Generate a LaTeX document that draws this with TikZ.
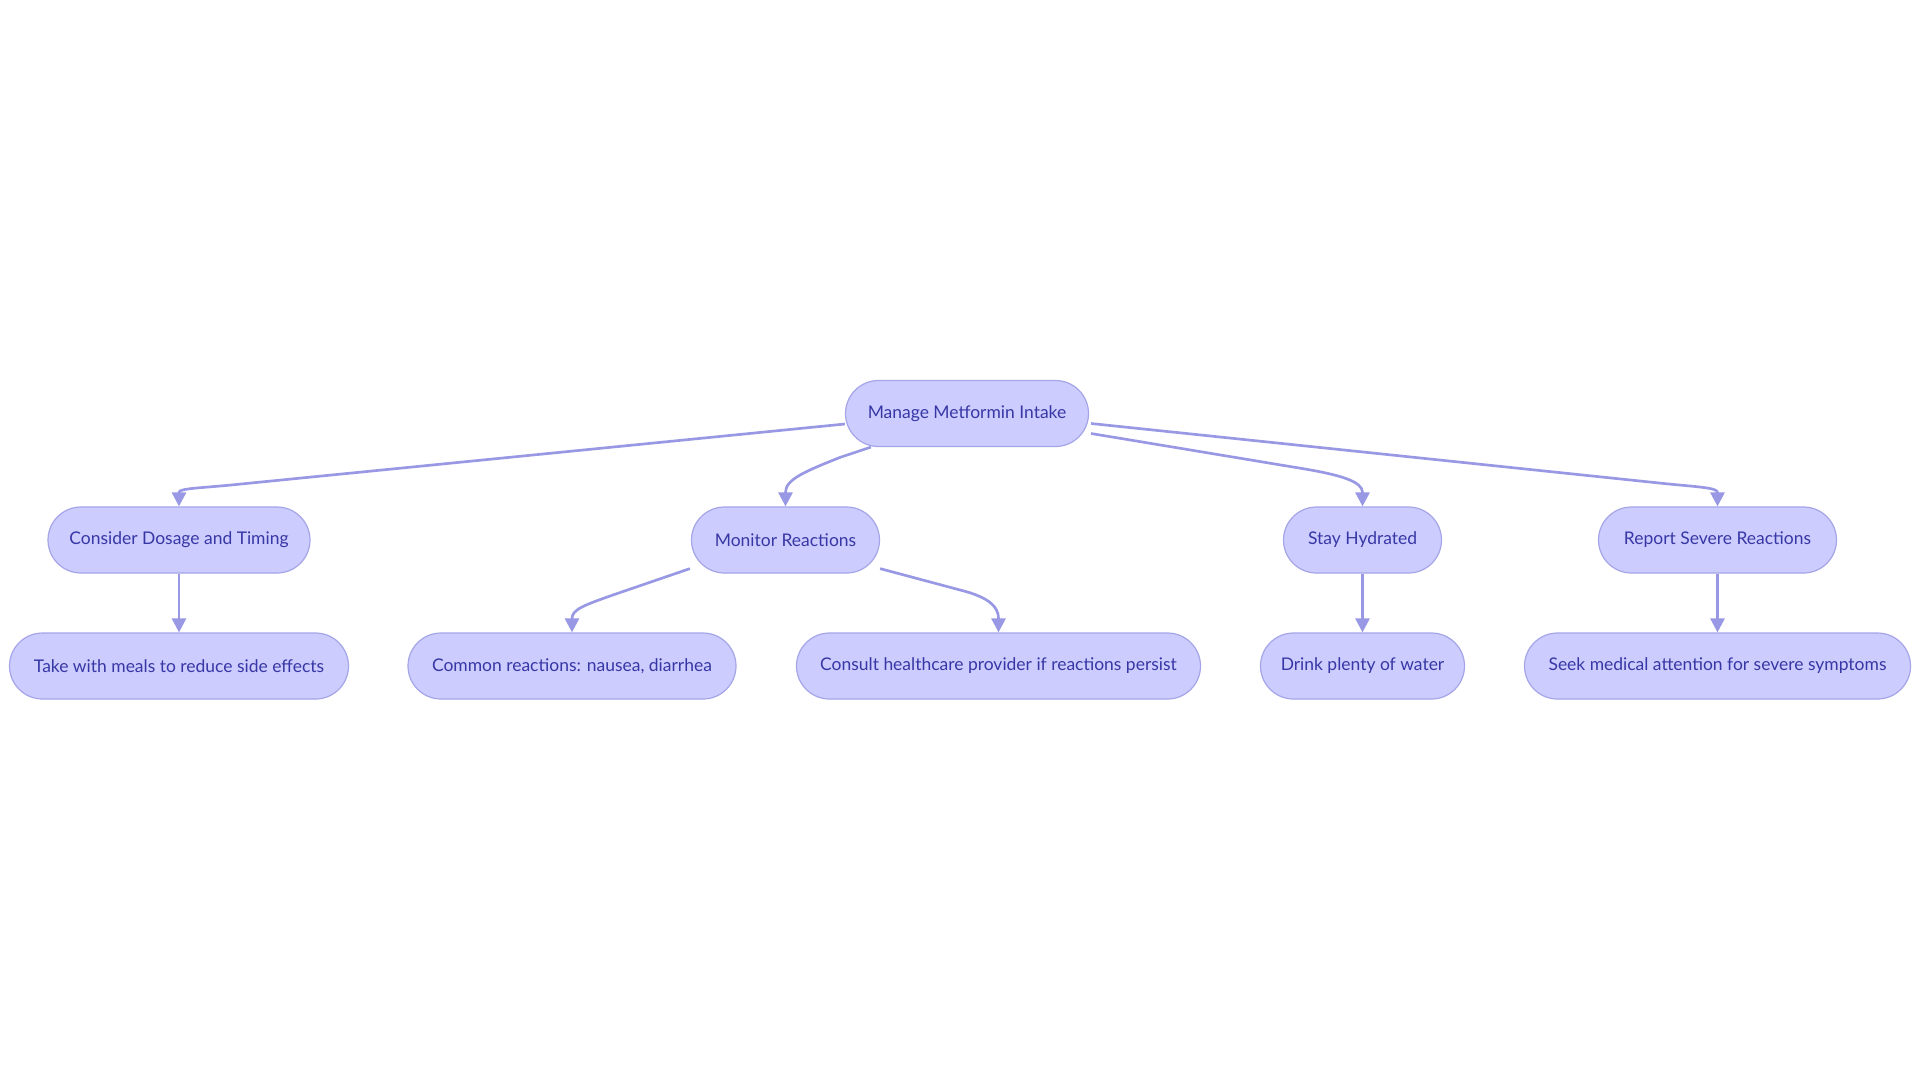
\documentclass[tikz,border=0pt]{standalone}
\usepackage{fontspec}
\setmainfont{Lato}
\usetikzlibrary{arrows.meta,calc}
\definecolor{nodefill}{RGB}{204,204,255}
\definecolor{nodeline}{RGB}{165,165,232}
\definecolor{edgecol}{RGB}{152,152,228}
\definecolor{textcol}{RGB}{55,55,165}
\def\PX{0.75pt}
\tikzset{
  box/.style={draw=nodeline, line width=0.9pt, fill=nodefill, rounded corners=33*\PX,
    minimum height=66*\PX, inner sep=0pt, text=textcol, font=\fontsize{13.1pt}{16pt}\selectfont},
  edge/.style={draw=edgecol, line width=2pt, -{Triangle[length=10.5pt,width=10.5pt]}},
}
\begin{document}
\begin{tikzpicture}[x=0.75pt,y=-0.75pt]
\useasboundingbox[fill=white] (0,0) rectangle (1920,1083);
% level 1
\node[box, minimum width=243*\PX] (root) at (967,413.5) {Manage Metformin Intake};
% level 2
\node[box, minimum width=262*\PX] (c1) at (179,540) {Consider Dosage and Timing};
\node[box, minimum width=188*\PX] (c2) at (785.5,540) {Monitor Reactions};
\node[box, minimum width=158*\PX] (c3) at (1362.5,540) {Stay Hydrated};
\node[box, minimum width=238*\PX] (c4) at (1717.5,540) {Report Severe Reactions};
% level 3
\node[box, minimum width=339*\PX] (g1) at (179,666) {Take with meals to reduce side effects};
\node[box, minimum width=328*\PX] (g2) at (572,666) {Common reactions: nausea, diarrhea};
\node[box, minimum width=404*\PX] (g3) at (998.5,666) {Consult healthcare provider if reactions persist};
\node[box, minimum width=204*\PX] (g4) at (1362.5,666) {Drink plenty of water};
\node[box, minimum width=386*\PX] (g5) at (1717.5,666) {Seek medical attention for severe symptoms};
% edges from root
\draw[edge] ($(root.west)+(0,10.5)$) -- ($(c1.north)+(51,-21.3)$)
  .. controls ($(c1.north)+(21,-18.4)$) and ($(c1.north)+(0,-18)$) .. ($(c1.north)+(0,-14)$) -- (c1.north);
\draw[edge] ($(root.south west)+(26,0)$) -- ($(c2.north)+(54.5,-49)$)
  .. controls ($(c2.north)+(19.5,-35)$) and ($(c2.north)+(0,-27)$) .. ($(c2.north)+(0,-14)$) -- (c2.north);
\draw[edge] ($(root.east)+(2,20)$) -- ($(c3.north)+(-57.5,-37.4)$)
  .. controls ($(c3.north)+(-22.5,-31.4)$) and ($(c3.north)+(0,-25)$) .. ($(c3.north)+(0,-14)$) -- (c3.north);
\draw[edge] ($(root.east)+(2,10)$) -- ($(c4.north)+(-57.5,-23.3)$)
  .. controls ($(c4.north)+(-22.5,-19.6)$) and ($(c4.north)+(0,-19)$) .. ($(c4.north)+(0,-14)$) -- (c4.north);
% edges from level 2
\draw[edge] (c1.south) -- (g1.north);
\draw[edge] ($(c2.south west)+(-1,-5)$) -- ($(g2.north)+(40,-37.1)$)
  .. controls ($(g2.north)+(13,-27.5)$) and ($(g2.north)+(0,-23)$) .. ($(g2.north)+(0,-14)$) -- (g2.north);
\draw[edge] ($(c2.south east)+(0,-5)$) -- ($(g3.north)+(-33.5,-41.1)$)
  .. controls ($(g3.north)+(-10.5,-34.7)$) and ($(g3.north)+(0,-26)$) .. ($(g3.north)+(0,-14)$) -- (g3.north);
\draw[edge] (c3.south) -- (g4.north);
\draw[edge] (c4.south) -- (g5.north);
\end{tikzpicture}
\end{document}
